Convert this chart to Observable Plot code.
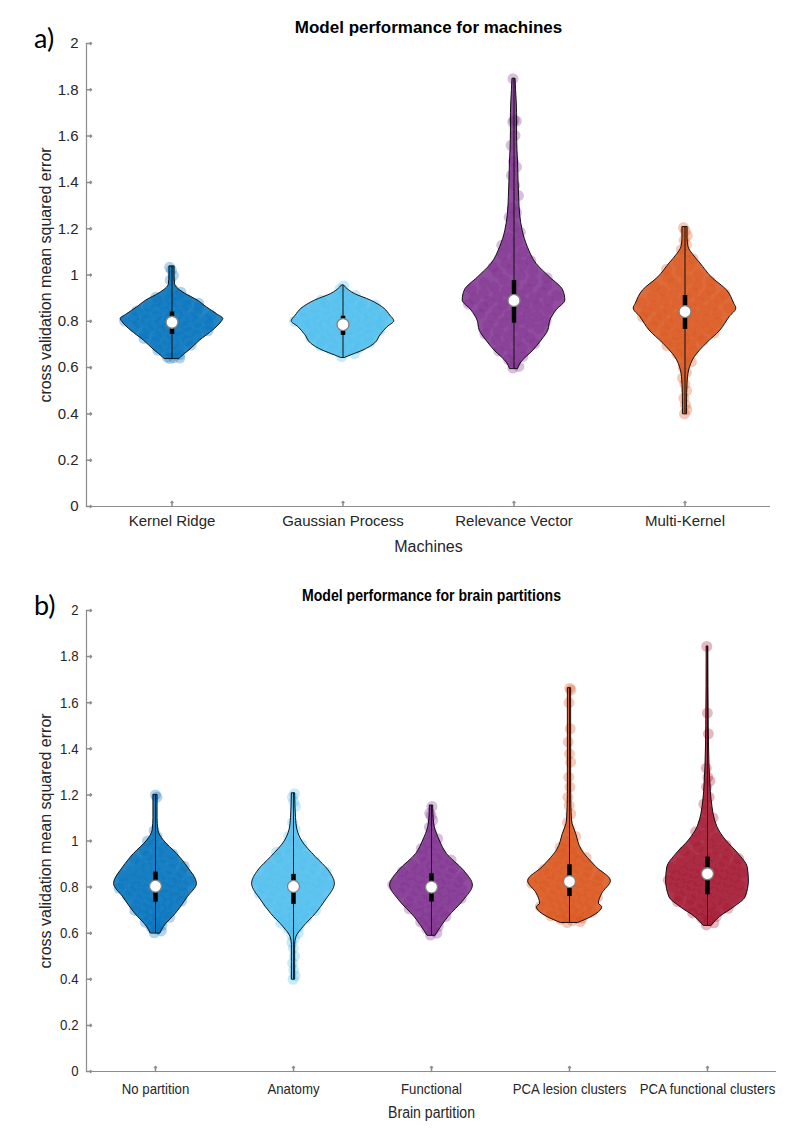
<!DOCTYPE html>
<html>
<head>
<meta charset="utf-8">
<script src="https://cdn.jsdelivr.net/npm/d3@7"></script>
<script src="https://cdn.jsdelivr.net/npm/@observablehq/plot@0.6"></script>
<style>
  body { margin: 0; background: #fff; width: 800px; height: 1136px; position: relative; overflow: hidden; }
  .panel { position: absolute; left: 0; }
  .lab { position: absolute; font-family: Lato, "Open Sans", sans-serif; font-size: 27px; color: #000; line-height: 1; }
</style>
</head>
<body>
<div id="pa" class="panel" style="top:0px"></div>
<div id="pb" class="panel" style="top:565px"></div>
<div class="lab" style="left:34px;top:24px">a)</div>
<div class="lab" style="left:34px;top:591px">b)</div>
<script>
// ---------------- data ----------------
const machines = ["Kernel Ridge", "Gaussian Process", "Relevance Vector", "Multi-Kernel"];
const partitions = ["No partition", "Anatomy", "Functional", "PCA lesion clusters", "PCA functional clusters"];
const colorsA = ["#0072BD", "#4DBEEE", "#7E2F8E", "#D95319"];
const colorsB = ["#0072BD", "#4DBEEE", "#7E2F8E", "#D95319", "#A2142F"];
const yTicks = [0, 0.2, 0.4, 0.6, 0.8, 1, 1.2, 1.4, 1.6, 1.8, 2];
const yTickLabels = ["0", "0.2", "0.4", "0.6", "0.8", "1", "1.2", "1.4", "1.6", "1.8", "2"];

// violin outlines: [error value, relative density]
const outlineKernelRidge = [[0.638,0.15],[0.645,0.18],[0.674,0.34],[0.717,0.55],[0.76,0.8],[0.795,0.96],[0.81,1.0],[0.83,0.88],[0.86,0.68],[0.89,0.5],[0.92,0.25],[0.945,0.1],[0.96,0.06],[1.0,0.05],[1.037,0.05]];
const outlineGaussian = [[0.642,0.04],[0.652,0.15],[0.674,0.4],[0.703,0.62],[0.739,0.73],[0.775,0.87],[0.80,1.0],[0.825,0.92],[0.854,0.81],[0.89,0.54],[0.918,0.23],[0.945,0.06],[0.955,0.02]];
const outlineRelevance = [[0.595,0.08],[0.618,0.13],[0.674,0.38],[0.717,0.54],[0.76,0.67],[0.803,0.71],[0.847,0.83],[0.89,1.0],[0.933,0.96],[0.99,0.7],[1.048,0.44],[1.12,0.27],[1.19,0.17],[1.26,0.12],[1.336,0.1],[1.48,0.08],[1.6,0.06],[1.7,0.06],[1.8,0.04],[1.848,0.03]];
const outlineMultiKernel = [[0.40,0.04],[0.45,0.04],[0.531,0.05],[0.587,0.08],[0.645,0.19],[0.703,0.42],[0.76,0.69],[0.818,0.87],[0.855,1.0],[0.876,0.96],[0.933,0.82],[0.99,0.52],[1.05,0.3],[1.09,0.15],[1.12,0.07],[1.16,0.05],[1.207,0.05]];
const outlineNoPartition = [[0.60,0.12],[0.626,0.2],[0.684,0.49],[0.756,0.78],[0.814,1.0],[0.886,0.78],[0.944,0.52],[1.002,0.2],[1.045,0.07],[1.10,0.05],[1.20,0.05]];
const outlineAnatomy = [[0.40,0.04],[0.55,0.04],[0.583,0.07],[0.626,0.24],[0.684,0.54],[0.742,0.78],[0.814,1.0],[0.872,0.85],[0.93,0.54],[1.002,0.2],[1.045,0.1],[1.10,0.06],[1.207,0.04]];
const outlineFunctional = [[0.59,0.1],[0.67,0.41],[0.742,0.78],[0.807,1.0],[0.872,0.78],[0.944,0.37],[1.002,0.2],[1.06,0.08],[1.10,0.05],[1.154,0.04]];
const outlinePcaLesion = [[0.645,0.22],[0.67,0.53],[0.713,0.79],[0.728,0.71],[0.771,0.79],[0.826,1.0],[0.886,0.65],[0.915,0.5],[0.96,0.3],[1.031,0.16],[1.089,0.06],[1.2,0.04],[1.663,0.04]];
const outlinePcaFunctional = [[0.633,0.1],[0.67,0.3],[0.713,0.65],[0.756,0.92],[0.829,1.0],[0.886,0.97],[0.944,0.75],[1.002,0.45],[1.06,0.24],[1.176,0.1],[1.248,0.07],[1.32,0.05],[1.5,0.03],[1.844,0.02]];

// individual cross-validation errors (estimated from the scatter)
const pointsKernelRidge = [0.639,0.641,0.643,0.645,0.655,0.668,0.675,0.684,0.692,0.697,0.703,0.711,0.716,0.72,0.726,0.732,0.735,0.738,0.742,0.747,0.752,0.756,0.759,0.762,0.766,0.77,0.774,0.776,0.779,0.782,0.786,0.79,0.794,0.796,0.798,0.801,0.804,0.807,0.81,0.813,0.816,0.819,0.822,0.826,0.83,0.834,0.837,0.84,0.845,0.849,0.853,0.857,0.861,0.866,0.87,0.874,0.878,0.883,0.889,0.894,0.898,0.904,0.911,0.918,0.926,0.94,0.978,0.998,1.02,1.033];
const pointsGaussian = [0.648,0.66,0.671,0.678,0.684,0.689,0.694,0.698,0.703,0.708,0.713,0.717,0.721,0.726,0.731,0.735,0.738,0.742,0.746,0.75,0.754,0.757,0.76,0.764,0.767,0.771,0.774,0.777,0.78,0.783,0.786,0.789,0.792,0.795,0.797,0.8,0.803,0.806,0.809,0.812,0.814,0.817,0.82,0.824,0.828,0.831,0.834,0.837,0.841,0.845,0.849,0.852,0.855,0.858,0.862,0.866,0.87,0.874,0.877,0.882,0.887,0.892,0.898,0.905,0.912,0.922,0.94,0.952];
const pointsRelevance = [0.598,0.605,0.622,0.635,0.648,0.659,0.672,0.685,0.695,0.703,0.714,0.72,0.728,0.736,0.745,0.751,0.758,0.768,0.775,0.782,0.79,0.795,0.801,0.808,0.815,0.82,0.826,0.833,0.838,0.845,0.85,0.856,0.862,0.866,0.87,0.874,0.879,0.884,0.889,0.893,0.897,0.901,0.906,0.911,0.916,0.921,0.926,0.931,0.937,0.942,0.948,0.954,0.96,0.966,0.973,0.98,0.988,1.0,1.01,1.018,1.025,1.035,1.042,1.05,1.063,1.072,1.088,1.1,1.115,1.128,1.145,1.16,1.185,1.21,1.25,1.27,1.29,1.343,1.387,1.43,1.466,1.49,1.56,1.603,1.66,1.665,1.67,1.848];
const pointsMultiKernel = [0.40,0.418,0.44,0.468,0.50,0.53,0.555,0.578,0.6,0.625,0.645,0.66,0.672,0.685,0.695,0.702,0.71,0.718,0.725,0.73,0.737,0.744,0.75,0.756,0.762,0.768,0.774,0.778,0.783,0.789,0.795,0.80,0.804,0.809,0.814,0.819,0.824,0.829,0.833,0.838,0.843,0.848,0.852,0.857,0.861,0.866,0.871,0.875,0.88,0.885,0.89,0.895,0.9,0.905,0.91,0.915,0.92,0.926,0.932,0.938,0.944,0.95,0.957,0.965,0.972,0.98,0.99,1.0,1.012,1.025,1.04,1.055,1.07,1.09,1.11,1.13,1.15,1.17,1.19,1.205];
const pointsNoPartition = [0.602,0.61,0.618,0.626,0.634,0.641,0.648,0.655,0.662,0.669,0.675,0.681,0.687,0.693,0.699,0.704,0.709,0.714,0.719,0.724,0.729,0.734,0.739,0.744,0.749,0.754,0.758,0.762,0.766,0.771,0.775,0.779,0.783,0.787,0.791,0.795,0.799,0.803,0.807,0.811,0.815,0.819,0.823,0.827,0.831,0.835,0.839,0.844,0.848,0.853,0.858,0.863,0.868,0.873,0.878,0.884,0.89,0.896,0.902,0.908,0.915,0.922,0.929,0.936,0.944,0.952,0.962,0.972,0.985,1.0,1.02,1.045,1.19,1.2];
const pointsAnatomy = [0.40,0.415,0.44,0.47,0.50,0.535,0.56,0.578,0.59,0.6,0.61,0.62,0.628,0.636,0.644,0.652,0.659,0.666,0.673,0.68,0.687,0.693,0.699,0.705,0.711,0.717,0.723,0.729,0.735,0.741,0.747,0.753,0.758,0.763,0.768,0.773,0.778,0.783,0.788,0.792,0.796,0.8,0.804,0.808,0.812,0.816,0.82,0.824,0.828,0.832,0.836,0.84,0.845,0.85,0.855,0.86,0.865,0.87,0.875,0.88,0.886,0.892,0.898,0.904,0.91,0.918,0.926,0.934,0.942,0.951,0.96,0.97,0.985,1.0,1.02,1.05,1.08,1.15,1.17,1.19,1.205];
const pointsFunctional = [0.592,0.6,0.61,0.62,0.63,0.64,0.648,0.656,0.664,0.672,0.679,0.686,0.693,0.7,0.706,0.712,0.718,0.724,0.73,0.736,0.741,0.746,0.751,0.756,0.761,0.766,0.77,0.775,0.78,0.785,0.79,0.794,0.798,0.802,0.806,0.81,0.814,0.818,0.822,0.826,0.83,0.834,0.838,0.843,0.848,0.853,0.858,0.863,0.868,0.873,0.878,0.884,0.89,0.896,0.903,0.91,0.918,0.926,0.935,0.945,0.956,0.968,0.98,0.995,1.01,1.03,1.06,1.09,1.11,1.12,1.15];
const pointsPcaLesion = [0.646,0.65,0.655,0.66,0.665,0.67,0.675,0.68,0.685,0.69,0.695,0.7,0.705,0.71,0.715,0.72,0.725,0.73,0.735,0.74,0.745,0.75,0.755,0.76,0.765,0.77,0.775,0.78,0.785,0.79,0.795,0.8,0.804,0.808,0.812,0.816,0.82,0.824,0.828,0.832,0.836,0.84,0.845,0.85,0.855,0.86,0.865,0.87,0.876,0.882,0.888,0.894,0.9,0.907,0.914,0.921,0.928,0.936,0.944,0.952,0.962,0.972,0.985,1.0,1.02,1.05,1.08,1.118,1.154,1.19,1.234,1.277,1.342,1.378,1.429,1.487,1.6,1.655,1.663];
const pointsPcaFunctional = [0.636,0.645,0.655,0.665,0.672,0.68,0.688,0.695,0.702,0.708,0.714,0.72,0.726,0.731,0.736,0.741,0.746,0.751,0.756,0.76,0.765,0.77,0.775,0.78,0.785,0.79,0.794,0.798,0.802,0.806,0.81,0.814,0.818,0.822,0.826,0.83,0.834,0.838,0.842,0.846,0.85,0.854,0.858,0.862,0.866,0.87,0.874,0.878,0.882,0.887,0.892,0.897,0.902,0.907,0.912,0.918,0.924,0.93,0.936,0.943,0.95,0.957,0.965,0.973,0.982,0.99,1.0,1.012,1.025,1.04,1.06,1.08,1.1,1.13,1.16,1.19,1.234,1.26,1.277,1.316,1.465,1.555,1.844];

// box statistics
const medianA = [0.796, 0.786, 0.89, 0.842];
const q1A = [0.743, 0.739, 0.792, 0.765];
const q3A = [0.84, 0.822, 0.976, 0.911];
const minA = [0.638, 0.642, 0.595, 0.40];
const maxA = [1.037, 0.955, 1.848, 1.207];
const medianB = [0.804, 0.803, 0.80, 0.824, 0.858];
const q1B = [0.735, 0.725, 0.735, 0.759, 0.767];
const q3B = [0.865, 0.855, 0.858, 0.897, 0.93];
const minB = [0.60, 0.40, 0.59, 0.645, 0.633];
const maxB = [1.20, 1.207, 1.154, 1.663, 1.844];

// ---------------- drawing ----------------
function dens(outline, v) {
  if (v <= outline[0][0]) return outline[0][1];
  for (let i = 1; i < outline.length; i++) {
    if (v <= outline[i][0]) {
      const [a, da] = outline[i - 1], [b, db] = outline[i];
      return da + (db - da) * (v - a) / (b - a);
    }
  }
  return outline[outline.length - 1][1];
}

const yLabel = "cross validation mean squared error";

function violinPanel(o) {
  const n = o.cats.length;
  const W = 0.3;
  const areaRows = [], pointRows = [];
  o.outlines.forEach((ol, g) => ol.forEach(([v, d]) => areaRows.push({g, v, x1: g + 1 - W * d, x2: g + 1 + W * d})));
  o.points.forEach((p, g) => {
    p.forEach((v, k) => {
      const d = dens(o.outlines[g], v);
      const u = (((k * 0.6180339887 + 0.37) % 1) * 2 - 1) * 0.95;
      pointRows.push({g, v, x: g + 1 + u * W * d});
    });
  });
  const stats = o.cats.map((c, g) => ({g, x: g + 1, med: o.med[g], q1: o.q1[g], q3: o.q3[g], lo: o.lo[g], hi: o.hi[g]}));
  const axisGray = "#8c8c8c";
  return Plot.plot({
    width: 800, height: o.height,
    marginLeft: 86, marginRight: o.marginRight, marginTop: o.marginTop, marginBottom: o.marginBottom,
    style: {fontFamily: o.font, fontSize: o.fs + "px", color: "#262626", background: "white"},
    x: {domain: [0.5, n + 0.5], label: null},
    y: {domain: [0, 2], label: null},
    marks: [
      Plot.areaX(areaRows, {y: "v", x1: "x1", x2: "x2", z: "g", fill: d => o.colors[d.g], fillOpacity: 0.86, curve: "monotone-y"}),
      Plot.dot(pointRows, {x: "x", y: "v", r: 5.5, fill: d => o.colors[d.g], fillOpacity: 0.3, stroke: "none"}),
      Plot.areaX(areaRows, {y: "v", x1: "x1", x2: "x2", z: "g", fill: "none", stroke: "black", strokeWidth: 0.9, curve: "monotone-y"}),
      Plot.ruleX(stats, {x: "x", y1: "lo", y2: "hi", stroke: "#111", strokeWidth: 1}),
      Plot.ruleX(stats, {x: "x", y1: "q1", y2: "q3", stroke: "black", strokeWidth: 4.5}),
      Plot.dot(stats, {x: "x", y: "med", r: 6, fill: "white", stroke: "#808080", strokeWidth: 1.3}),
      Plot.ruleX([0.5], {stroke: axisGray, strokeWidth: 1.2}),
      Plot.ruleY([0], {stroke: axisGray, strokeWidth: 1.2}),
      Plot.vector(yTicks, {y: d => d, frameAnchor: "left", length: 5, rotate: 90, anchor: "start", stroke: axisGray}),
      Plot.vector(d3.range(1, n + 1), {x: d => d, frameAnchor: "bottom", length: 5, rotate: 0, anchor: "start", stroke: axisGray}),
      Plot.axisY({ticks: yTicks, tickSize: 0, tickPadding: 8, label: null, tickFormat: d => yTickLabels[yTicks.indexOf(d)]}),
      Plot.axisX({ticks: d3.range(1, n + 1), tickSize: 0, tickPadding: o.xPad, label: null, tickFormat: i => o.cats[i - 1]}),
      Plot.text([o.title], {frameAnchor: "top", dy: o.titleDy, fontWeight: "bold", fontSize: o.titleFs, fill: "black"}),
      Plot.text([o.xlabel], {frameAnchor: "bottom", dy: o.xlabelDy, fontSize: 16}),
      Plot.text([yLabel], {frameAnchor: "left", dx: -41, rotate: -90, textAnchor: "middle", lineAnchor: "middle", fontSize: 16})
    ]
  });
}

document.getElementById("pa").append(violinPanel({
  cats: machines, colors: colorsA,
  outlines: [outlineKernelRidge, outlineGaussian, outlineRelevance, outlineMultiKernel],
  points: [pointsKernelRidge, pointsGaussian, pointsRelevance, pointsMultiKernel],
  med: medianA, q1: q1A, q3: q3A, lo: minA, hi: maxA,
  height: 565, marginTop: 43, marginBottom: 59, marginRight: 30,
  font: "'Liberation Sans', Arial, sans-serif", fs: 15, xPad: 9,
  title: "Model performance for machines", titleFs: 17, titleDy: -23,
  xlabel: "Machines", xlabelDy: 45
}));

const svgB = violinPanel({
  cats: partitions, colors: colorsB,
  outlines: [outlineNoPartition, outlineAnatomy, outlineFunctional, outlinePcaLesion, outlinePcaFunctional],
  points: [pointsNoPartition, pointsAnatomy, pointsFunctional, pointsPcaLesion, pointsPcaFunctional],
  med: medianB, q1: q1B, q3: q3B, lo: minB, hi: maxB,
  height: 571, marginTop: 45, marginBottom: 65, marginRight: 24,
  font: "'Liberation Sans', Arial, sans-serif", fs: 15, xPad: 12,
  title: "Model performance for brain partitions", titleFs: 16, titleDy: -21,
  xlabel: "Brain partition", xlabelDy: 46
});
document.getElementById("pb").append(svgB);
// panel b was horizontally compressed in the original figure: condense its horizontal text
svgB.querySelectorAll("text").forEach(t => {
  if (t.textContent === yLabel) return;
  const L = t.getComputedTextLength();
  if (L > 0) {
    t.setAttribute("textLength", (L * 0.88).toFixed(1));
    t.setAttribute("lengthAdjust", "spacingAndGlyphs");
  }
});
</script>
</body>
</html>
